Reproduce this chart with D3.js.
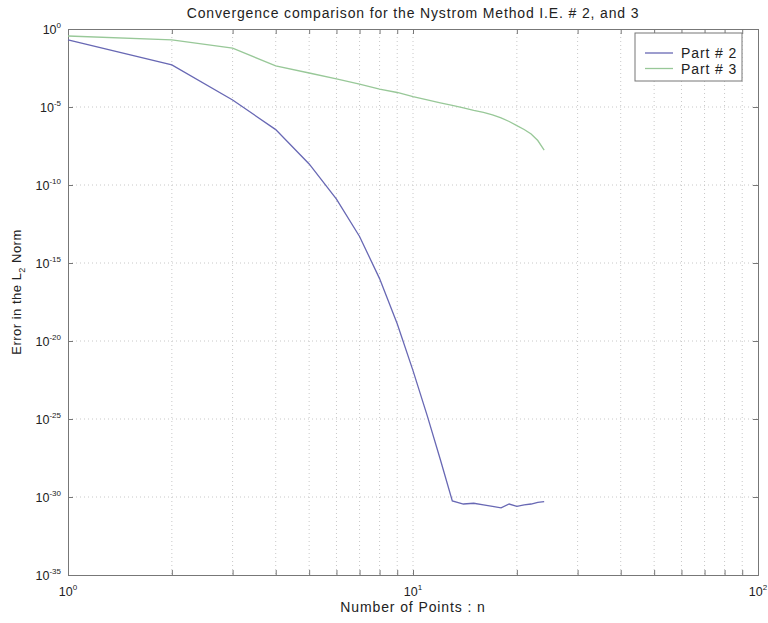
<!DOCTYPE html>
<html>
<head>
<meta charset="utf-8">
<script src="https://cdn.jsdelivr.net/npm/d3@7"></script>
<style>
  body { margin: 0; background: #fff; }
  text { font-family: "Liberation Sans", Arial, sans-serif; fill: #222; }
</style>
</head>
<body>
<div id="chart"></div>
<script>
// number of points n
var nPoints = [1,2,3,4,5,6,7,8,9,10,11,12,13,14,15,16,17,18,19,20,21,22,23,24];
// log10 of the error
var part2Exp = [-0.7,-2.3,-4.55,-6.45,-8.65,-10.9,-13.3,-16.0,-18.9,-21.9,-24.8,-27.6,-30.25,
                -30.45,-30.4,-30.5,-30.6,-30.7,-30.45,-30.6,-30.5,-30.45,-30.35,-30.3];
var part3Exp = [-0.45,-0.7,-1.22,-2.37,-2.82,-3.2,-3.53,-3.85,-4.07,-4.34,-4.55,-4.74,-4.9,
                -5.06,-5.22,-5.35,-5.5,-5.7,-5.93,-6.19,-6.44,-6.73,-7.15,-7.76];
var seriesNames = ["Part # 2", "Part # 3"];
var seriesColors = ["#6868b4", "#98c898"];
var xMajor = [0, 1, 2];
var yMajor = [0, -5, -10, -15, -20, -25, -30, -35];

var W = 768, H = 623;
var margin = {top: 29, right: 10, bottom: 48, left: 68},
    width = W - margin.left - margin.right,
    height = H - margin.top - margin.bottom;

var svg = d3.select("#chart").append("svg")
    .attr("width", W).attr("height", H)
  .append("g")
    .attr("transform", "translate(" + margin.left + "," + margin.top + ")");

var x = d3.scaleLog().domain([1, 100]).range([0, width]);
var y = d3.scaleLog().domain([1e-35, 1]).range([height, 0]);

// all x positions for grid / minor ticks
var xMinor = [];
[1, 10].forEach(function(b) {
  for (var k = 1; k <= 9; k++) xMinor.push(b * k);
});
xMinor.push(100);

// grid
svg.append("g").selectAll("line.gx")
  .data(xMinor.filter(function(v) { return v > 1 && v < 100; }))
  .enter().append("line")
    .attr("x1", function(d) { return x(d); }).attr("x2", function(d) { return x(d); })
    .attr("y1", 0).attr("y2", height)
    .attr("stroke", "#c8c8c8").attr("stroke-width", 1)
    .attr("stroke-dasharray", "1,3");
svg.append("g").selectAll("line.gy")
  .data(yMajor.filter(function(v) { return v < 0 && v > -35; }))
  .enter().append("line")
    .attr("x1", 0).attr("x2", width)
    .attr("y1", function(d) { return y(Math.pow(10, d)); })
    .attr("y2", function(d) { return y(Math.pow(10, d)); })
    .attr("stroke", "#c8c8c8").attr("stroke-width", 1)
    .attr("stroke-dasharray", "1,3");

// axes with inward ticks
var tickCol = "#777";
var xAxis = svg.append("g").attr("transform", "translate(0," + height + ")")
  .call(d3.axisBottom(x).tickValues(xMinor).tickSize(-5).tickFormat(""));
var xAxisTop = svg.append("g")
  .call(d3.axisTop(x).tickValues(xMinor).tickSize(-5).tickFormat(""));
var yVals = yMajor.map(function(e) { return Math.pow(10, e); });
var yAxis = svg.append("g")
  .call(d3.axisLeft(y).tickValues(yVals).tickSize(-5).tickFormat(""));
var yAxisR = svg.append("g").attr("transform", "translate(" + width + ",0)")
  .call(d3.axisRight(y).tickValues(yVals).tickSize(-5).tickFormat(""));
[xAxis, xAxisTop, yAxis, yAxisR].forEach(function(a) {
  a.selectAll("path").attr("stroke", tickCol);
  a.selectAll("line").attr("stroke", tickCol);
});

// tick labels 10^k
function powLabel(g, e) {
  g.append("tspan").text("10").attr("font-size", 12.5);
  g.append("tspan").text(e).attr("font-size", 8).attr("dy", -6);
}
xMajor.forEach(function(e) {
  var t = svg.append("text")
    .attr("x", x(Math.pow(10, e)))
    .attr("y", height + 21)
    .attr("text-anchor", "middle");
  powLabel(t, e);
});
yMajor.forEach(function(e) {
  var t = svg.append("text")
    .attr("x", -7)
    .attr("y", y(Math.pow(10, e)) + 5)
    .attr("text-anchor", "end");
  powLabel(t, e);
});

// lines
var line = d3.line()
  .x(function(d) { return x(d[0]); })
  .y(function(d) { return y(Math.pow(10, d[1])); });
[part2Exp, part3Exp].forEach(function(s, i) {
  var pts = nPoints.map(function(n, j) { return [n, s[j]]; });
  svg.append("path")
    .datum(pts)
    .attr("d", line)
    .attr("fill", "none")
    .attr("stroke", seriesColors[i])
    .attr("stroke-width", 1.3);
});

// title and labels
svg.append("text")
  .attr("x", width / 2).attr("y", -11)
  .attr("text-anchor", "middle")
  .attr("font-size", 14)
  .attr("letter-spacing", 0.85)
  .text("Convergence comparison for the Nystrom Method I.E. # 2, and 3");

svg.append("text")
  .attr("x", width / 2).attr("y", height + 37)
  .attr("text-anchor", "middle")
  .attr("font-size", 14)
  .attr("letter-spacing", 0.9)
  .text("Number of Points : n");

var yl = svg.append("text")
  .attr("transform", "translate(" + (-47) + "," + (height / 2 - 10) + ") rotate(-90)")
  .attr("text-anchor", "middle")
  .attr("font-size", 13)
  .attr("letter-spacing", 0.5);
yl.append("tspan").text("Error in the L");
yl.append("tspan").text("2").attr("font-size", 9).attr("dy", 4);
yl.append("tspan").text(" Norm").attr("dy", -4);

// legend
var lg = svg.append("g").attr("transform", "translate(" + (635 - margin.left) + "," + (33 - margin.top) + ")");
lg.append("rect").attr("width", 107).attr("height", 48)
  .attr("fill", "#fff").attr("stroke", "#777");
seriesNames.forEach(function(name, i) {
  var cy = 20 + i * 15.5;
  lg.append("line").attr("x1", 10).attr("x2", 38)
    .attr("y1", cy).attr("y2", cy)
    .attr("stroke", seriesColors[i]).attr("stroke-width", 1.3);
  lg.append("text").attr("x", 46).attr("y", cy + 5)
    .attr("font-size", 14).attr("letter-spacing", 0.9).text(name);
});
</script>
</body>
</html>
